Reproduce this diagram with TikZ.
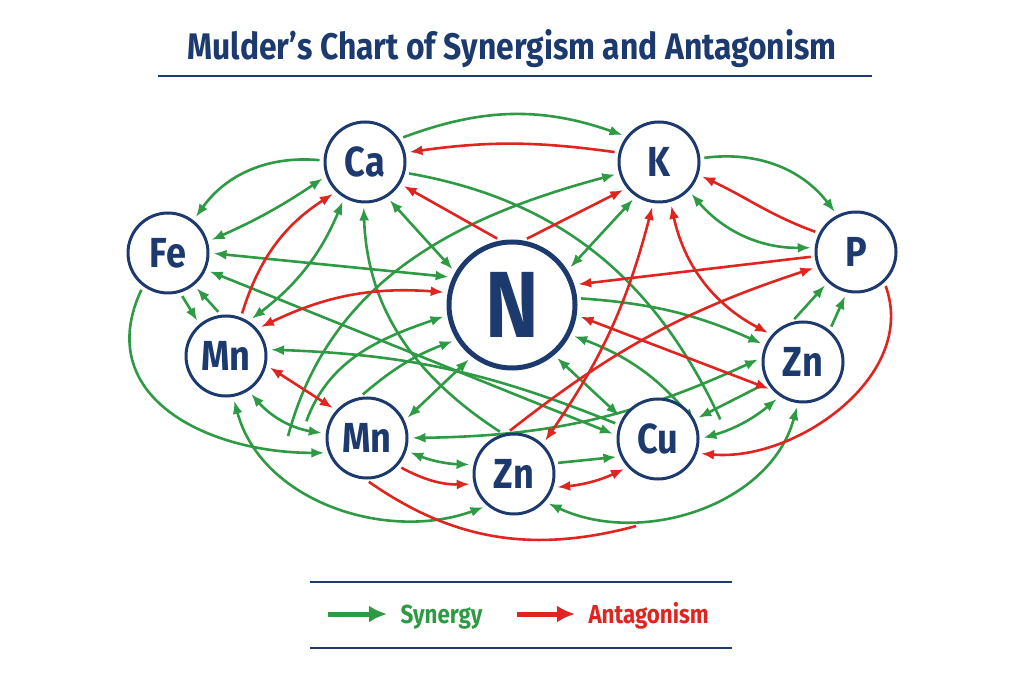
\documentclass[tikz,border=0pt]{standalone}
\usepackage{fontspec}
\setmainfont{Fira Sans}[FakeStretch=0.86]
\usepackage{xcolor}
\usetikzlibrary{arrows.meta,backgrounds}
\definecolor{navy}{HTML}{1C3A6E}
\definecolor{syngreen}{HTML}{2E9A44}
\definecolor{antred}{HTML}{E0241F}

\begin{document}
\begin{tikzpicture}[
    x=1pt,y=1pt,
    >={Latex[length=13pt,width=10pt]},
    elem/.style={circle,draw=navy,line width=3pt,fill=white,minimum size=80pt,inner sep=0pt,
                 text=navy,font=\bfseries\fontsize{42}{42}\selectfont},
    hub/.style={elem,line width=5pt,minimum size=126pt,font=\bfseries\fontsize{94}{94}\selectfont},
    syn/.style={draw=syngreen,line width=2.6pt,shorten <=4pt,shorten >=4pt},
    ant/.style={syn,draw=antred},
    rule/.style={draw=navy,line width=1.4pt},
    legarr/.style={line width=5pt,-{Latex[length=18pt,width=17pt]},shorten >=10pt},
    legtxt/.style={font=\bfseries\fontsize{26}{26}\selectfont,anchor=base west},
]

% title
\node[text=navy,font=\bfseries\fontsize{37}{37}\selectfont] (title) at (512,634)
  {Mulder’s Chart of Synergism and Antagonism};
\draw[rule] (158,607) -- (872,607);

% elements
\node[elem] (Ca) at (365,521) {Ca};
\node[elem] (K) at (659,521) {K};
\node[elem] (Fe) at (168,430) {Fe};
\node[elem] (P) at (856,431) {P};
\node[hub] (N) at (512,378) {N};
\node[elem] (Mn1) at (226,327) {Mn};
\node[elem] (Zn1) at (803,321) {Zn};
\node[elem] (Mn2) at (367,245) {Mn};
\node[elem] (Zn2) at (514,209) {Zn};
\node[elem] (Cu) at (658,244) {Cu};

\coordinate (l1) at (287,243);
\coordinate (l2) at (305,258);
\coordinate (c27) at (722,260);
\coordinate (c41) at (640,158);

\begin{scope}[on background layer]
\fill[white] (0,0) rectangle (1024,683);

% synergy
\draw[syn,->] (Ca.34) to[bend left=20] (K.142);
\draw[syn,->] (Ca.178) to[bend right=30] (Fe.52);
\draw[syn,<->] (Fe.16) to[bend right=5] (Ca.200);
\draw[syn,<->] (Ca.240) to[bend left=15] (Mn1.57);
\draw[syn,->] (Zn2.105) to[out=147,in=-88] (Ca.268);
\draw[syn,<->] (Ca.302) -- (N.150);
\draw[syn,->] (l1) to[out=75,in=195] (K.196);
\draw[syn,<->] (Fe.0) -- (N.155);
\draw[syn,->] (Mn2.100) to[bend left=10] (N.212);
\draw[syn,->] (l2) to[out=70,in=199] (N.189);
\draw[syn,<->] (N.232) -- (Mn2.25);
\draw[syn,<->] (Zn1.174) to[bend left=12] (Mn2.0);
\draw[syn,<->] (Fe.336) -- (Cu.175);
\draw[syn,->] (Cu.160) to[bend right=10] (Mn1.9);
\draw[syn,->] (K.5) to[bend left=30] (P.117);
\draw[syn,<->] (K.316) to[bend right=25] (P.174);
\draw[syn,<->] (K.236) -- (N.32);
\draw[syn] (Ca.345) to[out=-10,in=115] (c27);
\draw[syn,<->] (N.333) to[bend left=15] (Cu.20);
\draw[syn,->] (N.6) to[bend left=10] (Zn1.156);
\draw[syn,<->] (N.310) -- (Cu.150);
\draw[syn,->] (Zn1.106) -- (P.227);
\draw[syn,->] (Zn1.50) -- (P.257);
\draw[syn,->] (Zn1.210) -- (Cu.28);
\draw[syn,<->] (Cu.0) to[bend right=12] (Zn1.236);
\draw[syn,<->] (Zn2.318) to[out=-25,in=-105] (Zn1.263);
\draw[syn,->] (Fe.233) to[out=-115,in=180,looseness=1.25] (Mn2.201);
\draw[syn,<->] (Mn1.280) to[out=-75,in=200] (Zn2.230);
\draw[syn,<->] (Mn1.303) to[bend right=20] (Mn2.174);
\draw[syn,->] (Fe.287) -- (Mn1.130);
\draw[syn,->] (Mn1.97) -- (Fe.309);
\draw[syn,<->] (Mn2.342) to[bend right=10] (Zn2.167);
\draw[syn,->] (Zn2.15) -- (Cu.205);

% antagonism
\draw[ant,->] (K.167) to[bend right=8] (Ca.13);
\draw[ant,->] (Mn1.69) to[bend left=20] (Ca.226);
\draw[ant,->] (N.100) -- (Ca.328);
\draw[ant,->] (N.80) -- (K.219);
\draw[ant,<->] (Mn1.41) to[bend left=15] (N.169);
\draw[ant,->] (P.153) to[out=160,in=-25] (K.342);
\draw[ant,->] (P.186) -- (N.18);
\draw[ant,->] (Zn2.100) to[bend left=10] (P.201);
\draw[ant,<->] (Zn2.46) to[bend right=10] (K.262);
\draw[ant,<->] (K.286) to[bend right=25] (Zn1.139);
\draw[ant,<->] (N.351) -- (Zn1.223);
\draw[ant,->] (P.313) to[out=-70,in=-5] (Cu.340);
\draw[ant] (Mn2.268) to[out=-35,in=195] (c41);
\draw[ant,<->] (Mn1.347) -- (Mn2.138);
\draw[ant,->] (Mn2.318) to[bend right=15] (Zn2.194);
\draw[ant,<->] (Zn2.341) to[bend right=10] (Cu.223);
\end{scope}

% legend
\draw[rule] (310,101) -- (732,101);
\draw[rule] (310,35) -- (732,35);
\coordinate (synA) at (328,69);
\coordinate (antA) at (517,69);
\node[legtxt,text=syngreen] (synlbl) at (397,60) {Synergy};
\node[legtxt,text=antred] (antlbl) at (585,60) {Antagonism};
\draw[legarr,syngreen] (synA) -- (synA -| synlbl.west);
\draw[legarr,antred] (antA) -- (antA -| antlbl.west);

\end{tikzpicture}
\end{document}
